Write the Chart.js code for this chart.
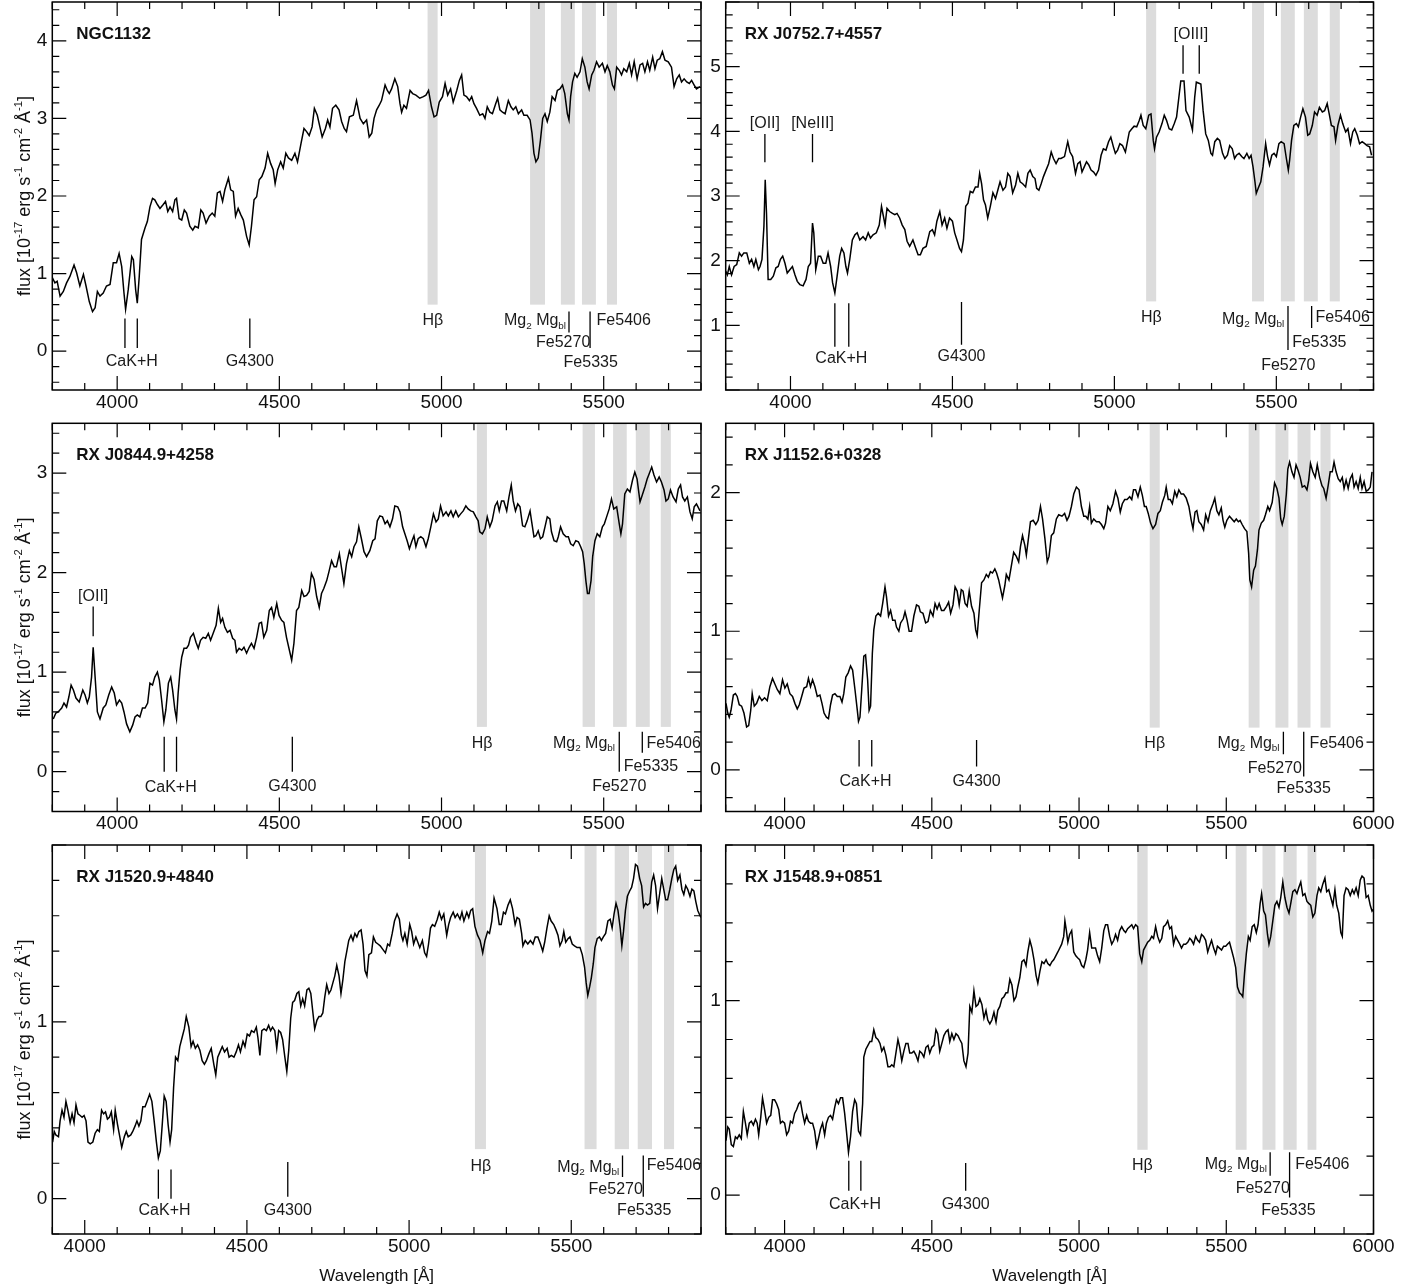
<!DOCTYPE html>
<html><head><meta charset="utf-8">
<script src="https://cdn.jsdelivr.net/npm/chart.js@4.4.1/dist/chart.umd.min.js"></script>
<style>
html,body{margin:0;padding:0;background:#fff;}
#wrap{position:relative;width:1420px;height:1287px;background:#fff;overflow:hidden;}
#wrap canvas{position:absolute;left:0;top:0;}
</style></head><body><div id="wrap"></div>
<script>
// ---------------- DATA ----------------
const panelNames = ['NGC1132','RX J0752.7+4557','RX J0844.9+4258','RX J1152.6+0328','RX J1520.9+4840','RX J1548.9+0851'];

const spectrum1 = [[3800,0.95],[3808,0.88],[3815,0.90],[3824,0.71],[3834,0.77],[3844,0.88],[3854,0.96],[3867,1.11],[3875,1.01],[3885,0.84],[3896,0.99],[3904,0.84],[3914,0.64],[3924,0.51],[3932,0.56],[3939,0.77],[3947,0.71],[3957,0.75],[3967,0.84],[3978,0.86],[3988,1.14],[3998,1.14],[4006,1.26],[4014,1.09],[4021,0.75],[4026,0.54],[4034,0.79],[4045,1.22],[4050,1.18],[4057,0.79],[4062,0.62],[4068,0.96],[4075,1.44],[4086,1.59],[4093,1.67],[4101,1.86],[4109,1.97],[4116,1.95],[4124,1.89],[4132,1.84],[4142,1.89],[4149,1.93],[4156,1.80],[4163,1.86],[4171,1.80],[4178,1.95],[4183,1.97],[4191,1.71],[4199,1.69],[4207,1.82],[4214,1.78],[4224,1.61],[4233,1.56],[4240,1.61],[4250,1.59],[4258,1.82],[4265,1.78],[4274,1.65],[4284,1.74],[4293,1.78],[4301,1.74],[4309,2.04],[4317,2.06],[4325,1.93],[4332,2.08],[4343,2.23],[4350,2.08],[4358,2.06],[4365,1.74],[4373,1.84],[4381,1.76],[4389,1.69],[4399,1.48],[4407,1.37],[4414,1.61],[4422,1.95],[4430,1.99],[4438,2.21],[4446,2.25],[4456,2.36],[4464,2.55],[4473,2.42],[4481,2.34],[4487,2.16],[4495,2.34],[4504,2.44],[4512,2.36],[4520,2.55],[4528,2.49],[4538,2.46],[4548,2.55],[4556,2.44],[4567,2.68],[4576,2.87],[4584,2.83],[4592,2.78],[4601,2.89],[4608,3.13],[4617,3.04],[4625,2.89],[4632,2.76],[4642,2.87],[4649,2.98],[4656,2.89],[4664,3.13],[4674,3.17],[4684,3.11],[4692,2.96],[4700,2.87],[4707,2.83],[4716,3.02],
[4728,3.04],[4738,3.23],[4749,3.00],[4759,2.93],[4769,2.98],[4777,2.76],[4785,2.81],[4792,3.00],[4800,3.11],[4808,3.17],[4815,3.23],[4826,3.43],[4833,3.36],[4839,3.32],[4846,3.38],[4856,3.51],[4865,3.41],[4872,3.19],[4877,3.08],[4884,3.17],[4892,3.13],[4903,3.36],[4911,3.32],[4921,3.30],[4933,3.26],[4944,3.28],[4952,3.30],[4960,3.36],[4969,3.15],[4977,3.02],[4985,3.04],[4993,3.21],[5003,3.28],[5011,3.45],[5019,3.30],[5028,3.38],[5036,3.21],[5047,3.36],[5055,3.49],[5062,3.56],[5069,3.30],[5077,3.28],[5086,3.23],[5093,3.28],[5100,3.19],[5108,3.13],[5118,3.04],[5127,3.06],[5134,3.00],[5141,3.15],[5149,3.08],[5157,3.06],[5167,3.19],[5173,3.26],[5180,3.11],[5188,3.08],[5196,3.06],[5206,3.23],[5214,3.15],[5221,3.11],[5229,3.15],[5237,3.06],[5247,3.11],[5254,3.04],[5264,3.04],[5273,2.98],[5279,2.81],[5285,2.55],[5291,2.44],[5298,2.49],[5305,2.72],[5312,3.00],[5319,3.06],[5326,2.96],[5334,3.08],[5341,3.28],[5350,3.23],[5357,3.36],[5365,3.38],[5373,3.43],[5380,3.32],[5388,3.06],[5393,2.98],[5398,3.28],[5404,3.47],[5411,3.58],[5418,3.53],[5427,3.60],[5434,3.77],[5442,3.66],[5449,3.47],[5455,3.38],[5463,3.56],[5470,3.62],[5478,3.73],[5486,3.66],[5496,3.71],[5504,3.60],[5511,3.68],[5519,3.60],[5527,3.43],[5533,3.38],[5540,3.66],[5548,3.62],[5555,3.56],[5562,3.64],[5571,3.60],[5579,3.71],[5586,3.56],[5594,3.73],[5603,3.51],[5612,3.69],[5620,3.71],[5627,3.60],[5635,3.73],[5642,3.62],[5651,3.79],[5658,3.64],[5665,3.75],[5673,3.77],[5681,3.86],[5689,3.75],[5699,3.73],[5709,3.66],[5717,3.41],[5725,3.51],[5733,3.56],[5740,3.47],[5748,3.51],[5756,3.47],[5764,3.45],[5771,3.49],[5779,3.43],[5786,3.38],[5797,3.41]];

const spectrum2 = [[3800,1.84],[3805,1.78],[3811,1.91],[3818,1.78],[3826,1.91],[3834,1.94],[3842,2.12],[3849,2.07],[3856,2.12],[3865,2.12],[3873,1.96],[3880,2.02],[3887,1.91],[3893,2.02],[3901,1.86],[3906,1.91],[3912,2.02],[3918,2.53],[3922,3.25],[3926,2.73],[3931,1.71],[3939,1.71],[3947,1.76],[3955,1.89],[3962,1.91],[3969,2.02],[3976,2.07],[3983,1.96],[3990,1.81],[3998,1.86],[4006,1.91],[4014,1.78],[4021,1.68],[4029,1.63],[4039,1.61],[4048,1.71],[4055,1.91],[4062,1.96],[4068,2.58],[4072,2.43],[4078,1.86],[4086,2.07],[4093,2.07],[4101,1.96],[4109,1.96],[4116,2.12],[4124,1.91],[4130,1.66],[4137,1.50],[4144,1.76],[4152,2.07],[4158,2.19],[4165,2.12],[4171,1.91],[4176,1.81],[4183,2.02],[4191,2.32],[4199,2.40],[4206,2.43],[4214,2.32],[4224,2.37],[4232,2.32],[4240,2.43],[4247,2.35],[4255,2.40],[4265,2.43],[4274,2.55],[4281,2.84],[4286,2.71],[4292,2.55],[4298,2.81],[4306,2.76],[4315,2.73],[4322,2.71],[4329,2.73],[4337,2.66],[4345,2.55],[4353,2.48],[4360,2.30],[4368,2.22],[4378,2.32],[4387,2.19],[4394,2.09],[4401,2.09],[4409,2.19],[4419,2.22],[4430,2.45],[4438,2.48],[4445,2.40],[4452,2.61],[4461,2.76],[4468,2.55],[4476,2.66],[4483,2.50],[4491,2.66],[4500,2.61],[4507,2.43],[4514,2.32],[4522,2.19],[4528,2.14],[4534,2.32],[4541,2.84],[4548,2.89],[4555,3.07],[4563,3.05],[4571,3.14],[4579,3.14],[4584,3.35],[4590,3.19],[4596,2.94],[4602,2.86],[4609,2.66],[4617,2.84],[4625,3.05],[4633,2.96],[4640,3.09],[4647,3.22],[4656,3.09],[4664,3.14],[4671,3.35],[4678,3.30],[4686,3.05],[4695,3.17],[4702,3.35],[4709,3.22],[4717,3.19],[4726,3.14],[4733,3.35],[4740,3.40],[4748,3.30],[4755,3.27],[4760,3.12],[4767,3.09],[4774,3.19],[4781,3.30],[4789,3.40],[4797,3.50],[4805,3.68],[4812,3.58],[4820,3.50],[4828,3.58],
[4835,3.58],[4846,3.61],[4856,3.84],[4863,3.68],[4871,3.61],[4880,3.35],[4887,3.50],[4894,3.53],[4900,3.37],[4907,3.45],[4914,3.53],[4921,3.48],[4928,3.40],[4936,3.37],[4943,3.32],[4951,3.40],[4959,3.63],[4966,3.73],[4974,3.71],[4982,3.84],[4989,3.91],[4997,3.76],[5003,3.66],[5010,3.71],[5017,3.81],[5025,3.78],[5034,3.68],[5041,3.86],[5046,3.99],[5054,4.04],[5061,4.08],[5069,4.07],[5077,4.17],[5082,4.25],[5089,4.09],[5097,4.04],[5106,4.25],[5113,4.27],[5120,3.86],[5124,3.73],[5130,3.91],[5138,3.99],[5147,4.12],[5154,4.25],[5161,4.17],[5169,4.04],[5177,4.02],[5185,4.12],[5192,4.22],[5198,4.48],[5205,4.78],[5215,4.78],[5221,4.32],[5231,4.22],[5241,4.02],[5248,4.53],[5253,4.76],[5267,4.73],[5274,4.32],[5282,3.96],[5290,3.86],[5298,3.66],[5303,3.63],[5310,3.84],[5318,3.89],[5325,3.86],[5334,3.66],[5341,3.58],[5349,3.63],[5356,3.78],[5364,3.73],[5371,3.58],[5377,3.63],[5385,3.66],[5393,3.61],[5400,3.58],[5409,3.66],[5416,3.58],[5422,3.63],[5428,3.45],[5434,3.22],[5438,3.04],[5444,3.12],[5452,3.22],[5459,3.45],[5467,3.81],[5473,3.61],[5479,3.48],[5486,3.63],[5493,3.66],[5500,3.61],[5508,3.81],[5515,3.84],[5524,3.81],[5531,3.58],[5537,3.40],[5541,3.55],[5547,3.86],[5554,4.09],[5562,4.12],[5568,4.07],[5575,4.22],[5582,4.35],[5590,4.22],[5597,3.94],[5603,3.96],[5611,4.09],[5618,4.30],[5626,4.25],[5633,4.37],[5642,4.30],[5649,4.32],[5657,4.43],[5664,4.25],[5670,4.09],[5678,4.07],[5683,3.86],[5690,4.09],[5698,4.25],[5705,4.12],[5714,3.99],[5721,4.04],[5729,3.81],[5736,3.99],[5742,4.04],[5750,3.94],[5757,3.81],[5765,3.84],[5773,3.81],[5780,3.78],[5788,3.76],[5794,3.63]];

const spectrum3 = [[3803,0.53],[3811,0.59],[3818,0.60],[3829,0.64],[3836,0.69],[3844,0.65],[3851,0.75],[3858,0.87],[3865,0.82],[3873,0.74],[3883,0.70],[3894,0.82],[3901,0.77],[3908,0.69],[3914,0.75],[3921,0.95],[3926,1.25],[3932,0.95],[3939,0.60],[3947,0.53],[3957,0.64],[3965,0.67],[3974,0.77],[3983,0.85],[3991,0.79],[3998,0.67],[4007,0.72],[4014,0.69],[4021,0.60],[4029,0.48],[4039,0.40],[4048,0.47],[4055,0.55],[4062,0.57],[4070,0.55],[4078,0.64],[4086,0.64],[4094,0.69],[4101,0.89],[4109,0.87],[4116,0.95],[4124,1.00],[4130,0.92],[4137,0.72],[4144,0.50],[4150,0.62],[4158,0.89],[4165,0.95],[4171,0.82],[4178,0.62],[4183,0.53],[4188,0.79],[4194,1.02],[4199,1.15],[4206,1.24],[4214,1.24],[4220,1.27],[4226,1.35],[4235,1.39],[4243,1.30],[4250,1.24],[4257,1.32],[4265,1.35],[4273,1.34],[4281,1.39],[4288,1.32],[4296,1.39],[4305,1.47],[4312,1.64],[4319,1.50],[4325,1.54],[4332,1.45],[4340,1.40],[4348,1.42],[4356,1.34],[4363,1.32],[4368,1.20],[4376,1.24],[4384,1.22],[4391,1.25],[4399,1.19],[4407,1.25],[4414,1.29],[4422,1.24],[4430,1.35],[4438,1.49],[4445,1.50],[4452,1.35],[4461,1.42],[4469,1.62],[4476,1.65],[4483,1.55],[4492,1.69],[4499,1.57],[4507,1.52],[4514,1.50],[4522,1.35],[4531,1.22],[4538,1.12],[4545,1.29],[4553,1.62],[4560,1.65],[4569,1.82],[4576,1.76],[4584,1.77],[4592,1.81],[4599,1.99],[4607,1.93],[4615,1.76],[4623,1.65],[4630,1.79],[4637,1.84],[4646,1.92],[4653,2.01],[4661,2.12],[4669,2.06],[4676,2.06],[4685,2.19],[4692,2.04],[4699,1.89],[4707,2.09],[4716,2.22],[4723,2.16],[4730,2.26],[4738,2.31],[4745,2.46],[4753,2.34],[4761,2.21],[4769,2.16],
[4779,2.22],[4788,2.32],[4795,2.34],[4802,2.52],[4810,2.57],[4818,2.56],[4826,2.49],[4833,2.52],[4841,2.46],[4849,2.54],[4856,2.67],[4865,2.66],[4872,2.61],[4880,2.46],[4887,2.39],[4894,2.32],[4901,2.24],[4908,2.31],[4915,2.37],[4921,2.26],[4928,2.34],[4936,2.36],[4944,2.34],[4952,2.26],[4959,2.34],[4967,2.46],[4975,2.59],[4983,2.51],[4990,2.54],[4997,2.67],[5005,2.57],[5014,2.61],[5021,2.57],[5029,2.62],[5036,2.56],[5044,2.62],[5052,2.56],[5059,2.59],[5067,2.62],[5075,2.67],[5082,2.64],[5090,2.62],[5098,2.61],[5106,2.56],[5113,2.52],[5118,2.41],[5126,2.39],[5134,2.44],[5141,2.56],[5149,2.46],[5156,2.52],[5165,2.67],[5172,2.71],[5178,2.62],[5185,2.72],[5192,2.72],[5201,2.62],[5208,2.76],[5215,2.88],[5221,2.72],[5228,2.62],[5235,2.69],[5242,2.66],[5250,2.47],[5257,2.46],[5264,2.52],[5273,2.62],[5278,2.51],[5285,2.36],[5291,2.37],[5298,2.42],[5305,2.34],[5312,2.36],[5319,2.46],[5326,2.56],[5334,2.54],[5339,2.41],[5347,2.32],[5355,2.31],[5360,2.36],[5367,2.46],[5375,2.39],[5384,2.36],[5391,2.36],[5398,2.29],[5406,2.27],[5414,2.32],[5422,2.31],[5429,2.26],[5435,2.21],[5440,2.09],[5445,1.92],[5450,1.79],[5455,1.79],[5461,1.92],[5466,2.16],[5473,2.32],[5480,2.39],[5488,2.36],[5496,2.46],[5502,2.49],[5509,2.56],[5517,2.64],[5524,2.74],[5531,2.64],[5540,2.66],[5548,2.49],[5553,2.39],[5558,2.49],[5565,2.79],[5573,2.84],[5581,2.81],[5589,2.93],[5596,3.01],[5603,2.94],[5612,2.71],[5619,2.78],[5627,2.86],[5634,2.94],[5640,2.99],[5648,3.06],[5655,2.98],[5663,2.91],[5671,2.96],[5678,2.91],[5686,2.83],[5692,2.72],[5699,2.74],[5706,2.83],[5714,2.76],[5723,2.71],[5730,2.84],[5737,2.88],[5743,2.76],[5750,2.72],[5758,2.76],[5766,2.61],[5773,2.54],[5779,2.66],[5786,2.69],[5797,2.62]];

const spectrum4 = [[3801,0.48],[3807,0.41],[3812,0.38],[3818,0.43],[3826,0.54],[3833,0.55],[3839,0.53],[3846,0.47],[3854,0.46],[3862,0.41],[3871,0.31],[3878,0.32],[3885,0.43],[3890,0.55],[3897,0.46],[3905,0.48],[3914,0.53],[3923,0.50],[3932,0.52],[3941,0.50],[3950,0.60],[3959,0.66],[3967,0.62],[3975,0.58],[3984,0.55],[3993,0.65],[4001,0.59],[4009,0.62],[4018,0.55],[4027,0.53],[4035,0.48],[4043,0.44],[4050,0.47],[4058,0.53],[4066,0.59],[4075,0.60],[4081,0.66],[4088,0.60],[4095,0.65],[4103,0.60],[4111,0.53],[4120,0.54],[4127,0.48],[4134,0.41],[4142,0.38],[4149,0.37],[4156,0.47],[4163,0.54],[4171,0.55],[4179,0.53],[4188,0.53],[4195,0.49],[4201,0.55],[4208,0.67],[4216,0.70],[4224,0.75],[4231,0.72],[4239,0.58],[4247,0.43],[4251,0.35],[4256,0.38],[4262,0.58],[4269,0.82],[4275,0.83],[4282,0.65],[4287,0.43],[4292,0.46],[4298,0.84],[4303,1.01],[4310,1.11],[4318,1.13],[4326,1.11],[4333,1.20],[4341,1.32],[4346,1.25],[4353,1.11],[4360,1.15],[4367,1.08],[4375,1.08],[4380,1.03],[4388,1.00],[4394,1.06],[4403,1.09],[4409,1.14],[4416,1.08],[4423,1.00],[4431,1.00],[4439,1.11],[4448,1.19],[4456,1.18],[4461,1.14],[4470,1.13],[4479,1.06],[4487,1.07],[4495,1.15],[4504,1.11],[4511,1.20],[4518,1.16],[4525,1.20],[4533,1.15],[4541,1.15],[4550,1.18],[4557,1.21],[4564,1.13],[4572,1.19],[4579,1.32],[4586,1.29],[4593,1.19],[4600,1.30],[4606,1.29],[4613,1.20],[4620,1.18],[4627,1.29],[4635,1.18],[4643,1.13],[4649,1.01],[4654,0.97],[4661,1.15],[4669,1.35],[4677,1.37],[4685,1.41],[4692,1.39],[4699,1.43],[4706,1.42],[4714,1.45],[4720,1.42],[4727,1.37],[4734,1.30],[4740,1.24],[4748,1.33],[4753,1.41],[4762,1.37],[4770,1.47],[4778,1.57],[4787,1.54],[4795,1.50],[4801,1.61],[4808,1.69],[4816,1.62],[4821,1.55],[4827,1.65],[4835,1.79],[4844,1.80],[4853,1.77],[4861,1.80],[4869,1.90],[4876,1.81],[4884,1.67],[4892,1.50],[4898,1.54],[4906,1.69],[4914,1.71],[4923,1.81],[4931,1.84],
[4942,1.83],[4951,1.85],[4959,1.80],[4966,1.83],[4974,1.90],[4982,1.99],[4991,2.04],[5000,2.02],[5008,1.90],[5016,1.83],[5023,1.83],[5030,1.81],[5036,1.90],[5042,1.78],[5050,1.81],[5059,1.79],[5068,1.79],[5076,1.77],[5084,1.74],[5090,1.78],[5098,1.90],[5106,1.87],[5115,1.92],[5124,2.01],[5132,1.96],[5140,1.86],[5147,1.92],[5155,1.95],[5163,1.95],[5172,1.97],[5179,1.95],[5185,2.02],[5192,2.02],[5200,1.97],[5208,2.04],[5215,1.98],[5222,1.90],[5228,1.90],[5235,1.85],[5243,1.78],[5251,1.74],[5260,1.77],[5268,1.85],[5276,1.87],[5283,1.93],[5291,1.98],[5296,2.04],[5303,1.95],[5310,1.95],[5317,1.92],[5325,2.01],[5332,1.97],[5339,2.02],[5347,1.99],[5355,1.99],[5364,1.96],[5373,1.90],[5381,1.80],[5387,1.74],[5394,1.86],[5400,1.87],[5407,1.79],[5415,1.77],[5423,1.73],[5430,1.84],[5438,1.79],[5446,1.87],[5455,1.92],[5461,1.96],[5468,1.87],[5475,1.84],[5483,1.89],[5489,1.80],[5495,1.75],[5502,1.80],[5511,1.83],[5519,1.81],[5527,1.79],[5534,1.81],[5541,1.79],[5547,1.80],[5554,1.77],[5562,1.74],[5570,1.72],[5576,1.56],[5580,1.37],[5586,1.32],[5593,1.44],[5599,1.47],[5606,1.59],[5611,1.73],[5619,1.78],[5627,1.80],[5633,1.84],[5641,1.90],[5647,1.87],[5656,1.93],[5664,2.07],[5672,2.03],[5679,1.96],[5685,1.81],[5690,1.77],[5697,1.83],[5704,1.99],[5709,2.17],[5715,2.22],[5723,2.15],[5730,2.11],[5737,2.20],[5744,2.16],[5751,2.11],[5758,2.04],[5766,2.05],[5774,2.02],[5780,2.09],[5786,2.21],[5794,2.15],[5802,2.11],[5809,2.20],[5817,2.11],[5825,2.05],[5831,2.03],[5839,1.96],[5846,2.05],[5853,2.15],[5860,2.15],[5866,2.22],[5873,2.15],[5880,2.10],[5887,2.08],[5894,2.11],[5900,2.03],[5907,2.09],[5914,2.03],[5921,2.10],[5928,2.13],[5934,2.04],[5941,2.08],[5948,2.03],[5955,2.11],[5961,2.03],[5968,2.08],[5975,2.01],[5982,2.02],[5989,2.04],[5995,2.15]];

const spectrum5 = [[3901,0.32],[3906,0.38],[3911,0.36],[3919,0.35],[3924,0.44],[3930,0.50],[3936,0.46],[3942,0.55],[3948,0.50],[3955,0.43],[3961,0.48],[3967,0.43],[3973,0.53],[3979,0.48],[3986,0.47],[3992,0.46],[3998,0.47],[4004,0.44],[4010,0.32],[4017,0.31],[4025,0.32],[4032,0.37],[4039,0.39],[4045,0.38],[4052,0.50],[4058,0.48],[4064,0.49],[4070,0.45],[4076,0.46],[4082,0.49],[4089,0.39],[4094,0.50],[4101,0.42],[4107,0.36],[4114,0.29],[4122,0.35],[4128,0.38],[4134,0.35],[4142,0.36],[4148,0.38],[4155,0.41],[4161,0.44],[4167,0.41],[4173,0.44],[4179,0.52],[4186,0.52],[4192,0.55],[4200,0.59],[4207,0.55],[4214,0.44],[4221,0.32],[4227,0.23],[4233,0.27],[4239,0.42],[4245,0.58],[4251,0.55],[4257,0.42],[4263,0.32],[4268,0.39],[4274,0.63],[4280,0.80],[4287,0.78],[4293,0.86],[4300,0.91],[4307,0.96],[4313,1.03],[4321,0.97],[4328,0.86],[4334,0.89],[4341,0.85],[4348,0.87],[4355,0.84],[4362,0.78],[4369,0.76],[4375,0.78],[4383,0.82],[4390,0.85],[4398,0.76],[4404,0.70],[4410,0.80],[4417,0.83],[4424,0.86],[4431,0.83],[4439,0.85],[4445,0.80],[4452,0.81],[4460,0.80],[4467,0.83],[4474,0.87],[4480,0.83],[4488,0.89],[4494,0.86],[4501,0.93],[4508,0.92],[4514,0.95],[4522,0.94],[4529,0.97],[4534,0.91],[4540,0.81],[4546,0.95],[4553,0.96],[4560,0.95],[4567,0.98],[4573,0.95],[4579,0.97],[4586,0.95],[4592,0.85],[4598,0.95],[4604,0.94],[4610,0.90],[4617,0.80],[4623,0.72],[4629,0.84],[4635,1.02],[4641,1.11],[4647,1.12],[4654,1.16],[4660,1.17],[4666,1.09],[4672,1.13],[4678,1.09],[4685,1.18],[4691,1.19],[4697,1.16],[4703,1.06],[4709,0.96],[4716,1.01],[4722,1.03],[4728,1.03],[4734,1.05],[4740,1.14],[4746,1.21],[4753,1.16],[4759,1.18],[4765,1.22],[4771,1.26],[4777,1.32],[4784,1.26],[4790,1.16],[4796,1.24],[4802,1.34],[4808,1.40],[4814,1.46],[4821,1.49],[4827,1.46],[4833,1.50],[4839,1.48],[4845,1.51],[4852,1.52],[4858,1.44],[4864,1.29],[4870,1.26],[4876,1.38],
[4884,1.39],[4890,1.48],[4897,1.45],[4904,1.44],[4911,1.43],[4919,1.41],[4927,1.39],[4934,1.44],[4940,1.43],[4948,1.50],[4955,1.57],[4963,1.61],[4970,1.58],[4976,1.49],[4981,1.46],[4987,1.50],[4994,1.44],[5002,1.55],[5008,1.51],[5014,1.44],[5021,1.48],[5027,1.45],[5033,1.42],[5041,1.46],[5048,1.39],[5054,1.37],[5060,1.44],[5066,1.53],[5072,1.55],[5079,1.54],[5087,1.58],[5093,1.62],[5100,1.58],[5107,1.61],[5116,1.49],[5122,1.55],[5128,1.59],[5136,1.62],[5142,1.59],[5149,1.61],[5157,1.58],[5163,1.62],[5169,1.57],[5178,1.62],[5184,1.59],[5190,1.63],[5196,1.64],[5203,1.54],[5211,1.49],[5219,1.46],[5227,1.39],[5234,1.46],[5242,1.51],[5248,1.50],[5255,1.57],[5262,1.70],[5271,1.64],[5278,1.55],[5284,1.55],[5291,1.62],[5297,1.61],[5305,1.66],[5312,1.69],[5319,1.64],[5327,1.55],[5333,1.59],[5340,1.58],[5347,1.50],[5351,1.43],[5358,1.46],[5366,1.44],[5374,1.46],[5382,1.44],[5389,1.48],[5397,1.48],[5405,1.44],[5412,1.40],[5418,1.45],[5425,1.53],[5432,1.60],[5438,1.57],[5446,1.55],[5453,1.52],[5459,1.49],[5465,1.43],[5472,1.46],[5477,1.51],[5483,1.45],[5490,1.47],[5496,1.48],[5503,1.44],[5510,1.43],[5518,1.42],[5527,1.42],[5534,1.38],[5541,1.31],[5546,1.22],[5551,1.15],[5557,1.20],[5562,1.25],[5568,1.33],[5573,1.42],[5580,1.47],[5587,1.48],[5593,1.46],[5599,1.48],[5606,1.50],[5613,1.57],[5620,1.58],[5626,1.53],[5632,1.61],[5638,1.67],[5644,1.63],[5651,1.53],[5656,1.43],[5661,1.51],[5667,1.63],[5673,1.71],[5680,1.74],[5686,1.76],[5692,1.81],[5698,1.89],[5704,1.88],[5711,1.81],[5717,1.77],[5723,1.65],[5729,1.67],[5735,1.66],[5742,1.67],[5748,1.79],[5754,1.83],[5760,1.77],[5766,1.64],[5773,1.73],[5779,1.81],[5785,1.75],[5791,1.69],[5797,1.69],[5804,1.75],[5810,1.81],[5816,1.86],[5822,1.88],[5828,1.80],[5835,1.83],[5841,1.75],[5847,1.72],[5853,1.77],[5859,1.75],[5866,1.71],[5872,1.75],[5878,1.74],[5884,1.68],[5890,1.63],[5897,1.60],[5900,1.59]];

const spectrum6 = [[3801,0.28],[3807,0.35],[3812,0.34],[3819,0.26],[3826,0.25],[3833,0.30],[3839,0.29],[3846,0.31],[3853,0.29],[3860,0.43],[3867,0.37],[3873,0.31],[3880,0.37],[3887,0.38],[3894,0.36],[3901,0.39],[3907,0.37],[3912,0.31],[3919,0.40],[3925,0.50],[3932,0.44],[3939,0.37],[3946,0.40],[3953,0.41],[3959,0.49],[3966,0.49],[3973,0.47],[3980,0.44],[3986,0.37],[3993,0.38],[4000,0.37],[4007,0.31],[4014,0.33],[4020,0.38],[4027,0.37],[4034,0.42],[4041,0.44],[4048,0.47],[4054,0.48],[4061,0.42],[4068,0.37],[4075,0.41],[4081,0.38],[4088,0.37],[4095,0.37],[4102,0.33],[4109,0.25],[4115,0.29],[4122,0.34],[4129,0.37],[4136,0.31],[4142,0.37],[4149,0.40],[4156,0.41],[4163,0.39],[4170,0.45],[4176,0.49],[4183,0.47],[4190,0.50],[4197,0.50],[4204,0.42],[4210,0.33],[4217,0.22],[4224,0.30],[4231,0.43],[4238,0.49],[4244,0.47],[4251,0.33],[4258,0.31],[4265,0.47],[4269,0.71],[4276,0.75],[4283,0.77],[4290,0.79],[4296,0.79],[4303,0.85],[4310,0.81],[4317,0.80],[4324,0.78],[4330,0.74],[4337,0.76],[4344,0.72],[4351,0.66],[4358,0.66],[4364,0.67],[4371,0.66],[4378,0.73],[4385,0.80],[4391,0.76],[4398,0.69],[4405,0.74],[4412,0.78],[4419,0.78],[4425,0.73],[4432,0.73],[4439,0.74],[4446,0.72],[4453,0.69],[4459,0.74],[4466,0.73],[4473,0.71],[4480,0.76],[4487,0.77],[4493,0.73],[4500,0.76],[4507,0.77],[4514,0.85],[4520,0.83],[4527,0.74],[4534,0.78],[4541,0.82],[4548,0.84],[4555,0.85],[4561,0.79],[4568,0.83],[4575,0.80],[4582,0.83],[4589,0.82],[4595,0.80],[4602,0.78],[4609,0.69],[4616,0.66],[4623,0.73],[4629,0.97],[4636,0.94],[4643,1.05],[4650,0.97],[4657,0.98],[4663,1.01],[4670,0.98],[4677,0.91],[4684,0.95],[4690,0.90],[4697,0.88],[4704,0.90],[4711,0.94],[4718,0.89],[4724,0.95],[4731,0.97],[4738,1.01],[4745,1.02],[4752,1.04],[4758,1.04],[4765,1.11],[4772,1.08],[4779,1.00],[4786,1.02],[4792,1.07],[4799,1.12],[4806,1.20],[4813,1.21],[4820,1.18],[4826,1.25],[4833,1.31],[4840,1.27],[4847,1.21],[4854,1.13],[4860,1.09],[4867,1.15],[4874,1.20],[4881,1.19],[4888,1.21],[4894,1.19],[4901,1.18],[4908,1.20],[4914,1.21],[4921,1.23],[4928,1.25],
[4941,1.29],[4948,1.33],[4952,1.41],[4957,1.36],[4962,1.30],[4968,1.34],[4975,1.36],[4982,1.25],[4989,1.23],[4995,1.22],[5002,1.21],[5009,1.18],[5016,1.17],[5023,1.21],[5029,1.26],[5036,1.35],[5043,1.27],[5050,1.27],[5056,1.27],[5063,1.23],[5070,1.20],[5077,1.27],[5084,1.36],[5090,1.39],[5097,1.39],[5104,1.33],[5111,1.29],[5118,1.31],[5124,1.34],[5131,1.31],[5138,1.36],[5145,1.38],[5152,1.36],[5158,1.35],[5165,1.37],[5172,1.38],[5179,1.39],[5185,1.37],[5192,1.39],[5199,1.38],[5206,1.24],[5213,1.20],[5219,1.26],[5226,1.28],[5233,1.30],[5240,1.31],[5247,1.33],[5253,1.32],[5260,1.38],[5267,1.33],[5274,1.30],[5281,1.32],[5287,1.38],[5294,1.39],[5301,1.41],[5308,1.37],[5314,1.38],[5321,1.29],[5328,1.33],[5335,1.31],[5342,1.29],[5348,1.27],[5355,1.29],[5362,1.29],[5369,1.30],[5376,1.32],[5382,1.31],[5389,1.29],[5396,1.33],[5403,1.31],[5409,1.30],[5416,1.34],[5423,1.33],[5430,1.31],[5437,1.25],[5443,1.28],[5450,1.31],[5457,1.27],[5464,1.24],[5470,1.28],[5477,1.27],[5484,1.26],[5491,1.28],[5498,1.28],[5504,1.29],[5511,1.30],[5518,1.26],[5525,1.22],[5532,1.17],[5538,1.07],[5545,1.04],[5552,1.03],[5556,1.02],[5562,1.14],[5568,1.24],[5575,1.33],[5581,1.31],[5588,1.38],[5595,1.39],[5602,1.35],[5608,1.39],[5615,1.50],[5620,1.55],[5627,1.46],[5633,1.44],[5640,1.34],[5645,1.29],[5651,1.33],[5658,1.41],[5665,1.49],[5672,1.51],[5679,1.48],[5685,1.53],[5692,1.61],[5699,1.53],[5706,1.48],[5713,1.45],[5719,1.50],[5726,1.56],[5733,1.57],[5740,1.55],[5746,1.58],[5753,1.61],[5760,1.54],[5767,1.55],[5774,1.51],[5780,1.50],[5787,1.49],[5794,1.43],[5801,1.45],[5808,1.54],[5814,1.58],[5821,1.56],[5828,1.60],[5835,1.63],[5841,1.56],[5848,1.57],[5855,1.53],[5862,1.49],[5869,1.57],[5875,1.49],[5882,1.45],[5889,1.35],[5894,1.33],[5900,1.54],[5907,1.58],[5914,1.57],[5921,1.54],[5928,1.57],[5934,1.55],[5941,1.58],[5948,1.54],[5955,1.62],[5961,1.64],[5968,1.63],[5975,1.53],[5982,1.54],[5989,1.49],[5995,1.46],[6000,1.47]];

const spectra = [spectrum1, spectrum2, spectrum3, spectrum4, spectrum5, spectrum6];

// axis ranges and tick labels
const xRanges = [[3800,5800],[3800,5800],[3800,5800],[3800,6000],[3900,5900],[3800,6000]];
const yRanges = [[-0.5,4.5],[0,6],[-0.4,3.5],[-0.3,2.5],[-0.2,2.0],[-0.2,1.8]];
const xTickLabels = [[4000,4500,5000,5500],[4000,4500,5000,5500],[4000,4500,5000,5500],[4000,4500,5000,5500,6000],[4000,4500,5000,5500],[4000,4500,5000,5500,6000]];
const yTickLabels = [[0,1,2,3,4],[1,2,3,4,5],[0,1,2,3],[0,1,2],[0,1],[0,1]];

// Lick index passbands (observed wavelength) and lower end of the shading
const indexBands = [
  [[4957,4988],[5273,5319],[5368,5411],[5433,5476],[5510,5541]],
  [[5098,5129],[5425,5462],[5514,5557],[5585,5628],[5665,5696]],
  [[5109,5140],[5435,5473],[5529,5571],[5599,5642],[5676,5707]],
  [[5240,5274],[5576,5613],[5667,5711],[5742,5786],[5820,5854]],
  [[5203,5237],[5541,5578],[5634,5678],[5705,5749],[5786,5817]],
  [[5198,5233],[5532,5569],[5623,5667],[5694,5739],[5776,5806]]
];
const bandFloor = [0.6, 1.37, 0.45, 0.305, 0.28, 0.233];

// feature marker lines: [wavelength, flux from, flux to]
const lineMarks = [
  [[4024,0.04,0.42],[4062,0.04,0.42],[4409,0.04,0.42],[5393,0.24,0.51],[5458,0.04,0.51]],
  [[3921,3.52,3.96],[4068,3.52,3.96],[5212,4.89,5.33],[5262,4.89,5.33],[4137,0.67,1.34],[4180,0.67,1.34],[4528,0.70,1.36],[5536,0.62,1.30],[5609,0.96,1.30]],
  [[3926,1.36,1.66],[4145,0,0.35],[4183,0,0.35],[4540,0,0.35],[5548,0,0.40],[5619,0.19,0.40]],
  [[4253,0.024,0.216],[4296,0.024,0.216],[4652,0.024,0.216],[5694,0.113,0.276],[5763,-0.048,0.276]],
  [[4227,0,0.165],[4266,0,0.165],[4626,0.01,0.207],[5658,0.122,0.244],[5722,0.01,0.244]],
  [[4218,0.022,0.177],[4259,0.022,0.177],[4615,0.022,0.165],[5649,0.10,0.22],[5715,-0.012,0.22]]
];

// feature labels: [text, wavelength, flux, anchor]
const MG = [['Mg',0],['2',-1],[' Mg',0],['bl',-1]];
const lineLabels = [
  [['CaK+H',4045,-0.13,'c'],['G4300',4409,-0.13,'c'],['Hβ',4973,0.39,'c'],[MG,5384,0.39,'r'],['Fe5270',5375,0.11,'c'],['Fe5335',5460,-0.15,'c'],['Fe5406',5478,0.39,'l']],
  [['[OII]',3921,4.12,'c'],['[NeIII]',4068,4.12,'c'],['[OIII]',5236,5.50,'c'],['CaK+H',4157,0.49,'c'],['G4300',4528,0.52,'c'],['Hβ',5114,1.12,'c'],[MG,5524,1.09,'r'],['Fe5270',5537,0.385,'c'],['Fe5335',5549,0.74,'l'],['Fe5406',5621,1.12,'l']],
  [['[OII]',3926,1.755,'c'],['CaK+H',4165,-0.16,'c'],['G4300',4540,-0.15,'c'],['Hβ',5125,0.285,'c'],[MG,5535,0.285,'r'],['Fe5270',5548,-0.15,'c'],['Fe5335',5562,0.05,'l'],['Fe5406',5632,0.285,'l']],
  [['CaK+H',4275,-0.084,'c'],['G4300',4652,-0.084,'c'],['Hβ',5257,0.19,'c'],[MG,5681,0.19,'r'],['Fe5270',5665,0.012,'c'],['Fe5335',5763,-0.137,'c'],['Fe5406',5783,0.19,'l']],
  [['CaK+H',4246,-0.07,'c'],['G4300',4626,-0.07,'c'],['Hβ',5221,0.18,'c'],[MG,5648,0.178,'r'],['Fe5270',5637,0.05,'c'],['Fe5335',5725,-0.066,'c'],['Fe5406',5733,0.188,'l']],
  [['CaK+H',4239,-0.05,'c'],['G4300',4615,-0.05,'c'],['Hβ',5215,0.151,'c'],[MG,5638,0.159,'r'],['Fe5270',5624,0.031,'c'],['Fe5335',5711,-0.08,'c'],['Fe5406',5734,0.159,'l']]
];

const yTitle = [['flux [10',0],['-17',1],[' erg s',0],['-1',1],[' cm',0],['-2',1],[' Å',0],['-1',1],[']',0]];
const xTitle = 'Wavelength [Å]';

// ---------------- LAYOUT / STYLE ----------------
const W = 1420, H = 1287, YW = 50, XH = 32;
const FONT = '"Liberation Sans Narrow","Arial Narrow","Liberation Sans",Arial,sans-serif';
const plotBoxes = [
  [52.3, 2, 701, 390], [725.7, 2, 1373.5, 390],
  [52.3, 423.3, 701, 811.5], [725.7, 423.3, 1373.5, 811.5],
  [52.3, 845, 701, 1234], [725.7, 845, 1373.5, 1234]
];

function drawRich(ctx, parts, x, y, align, size, weight) {
  if (typeof parts === 'string') parts = [[parts, 0]];
  const f = s => `${weight || ''} ${s}px ${FONT}`;
  const ws = []; let w = 0;
  for (const [t, m] of parts) { ctx.font = f(m ? size * 0.62 : size); const tw = ctx.measureText(t).width; ws.push(tw); w += tw; }
  let cx = align === 'c' ? x - w / 2 : (align === 'r' ? x - w : x);
  ctx.textAlign = 'left'; ctx.textBaseline = 'middle';
  parts.forEach(([t, m], k) => {
    ctx.font = f(m ? size * 0.62 : size);
    const dy = m === 1 ? -size * 0.36 : (m === -1 ? size * 0.32 : 0);
    ctx.fillText(t, cx, y + dy);
    cx += ws[k];
  });
}

function decoPlugin(i) {
  return {
    id: 'deco' + i,
    beforeDatasetsDraw(chart) {
      const { ctx, chartArea: a, scales: { x, y } } = chart;
      ctx.save();
      ctx.beginPath(); ctx.rect(a.left, a.top, a.right - a.left, a.bottom - a.top); ctx.clip();
      ctx.fillStyle = '#dcdcdc';
      const yb = y.getPixelForValue(bandFloor[i]);
      for (const [s, e] of indexBands[i]) {
        const x1 = x.getPixelForValue(s), x2 = x.getPixelForValue(e);
        ctx.fillRect(x1, a.top, x2 - x1, yb - a.top);
      }
      ctx.restore();
    },
    afterDatasetsDraw(chart) {
      const { ctx, chartArea: a, scales: { x, y } } = chart;
      ctx.save();
      ctx.strokeStyle = '#000'; ctx.lineWidth = 1.5;
      ctx.strokeRect(a.left, a.top, a.right - a.left, a.bottom - a.top);
      ctx.lineWidth = 1.2; ctx.beginPath();
      const [x0, x1] = xRanges[i];
      for (let v = Math.ceil(x0 / 100) * 100; v <= x1; v += 100) {
        const px = x.getPixelForValue(v), L = v % 500 === 0 ? 14 : 7;
        ctx.moveTo(px, a.bottom); ctx.lineTo(px, a.bottom - L);
        ctx.moveTo(px, a.top); ctx.lineTo(px, a.top + L);
      }
      const [y0, y1] = yRanges[i];
      for (let k = Math.ceil(y0 * 5 - 1e-6); k <= Math.floor(y1 * 5 + 1e-6); k++) {
        const py = y.getPixelForValue(k / 5), L = k % 5 === 0 ? 14 : 7;
        ctx.moveTo(a.left, py); ctx.lineTo(a.left + L, py);
        ctx.moveTo(a.right, py); ctx.lineTo(a.right - L, py);
      }
      ctx.stroke();
      ctx.lineWidth = 1.3; ctx.beginPath();
      for (const [wl, f0, f1] of lineMarks[i]) {
        const px = x.getPixelForValue(wl);
        ctx.moveTo(px, y.getPixelForValue(f0)); ctx.lineTo(px, y.getPixelForValue(f1));
      }
      ctx.stroke();
      ctx.fillStyle = '#1a1a1a';
      for (const [t, wl, fl, al] of lineLabels[i]) {
        drawRich(ctx, t, x.getPixelForValue(wl), y.getPixelForValue(fl), al, 16);
      }
      ctx.fillStyle = '#111';
      drawRich(ctx, panelNames[i], a.left + (i % 2 === 0 ? 24 : 19), a.top + 32, 'l', 17, 'bold');
      ctx.restore();
    },
    afterDraw(chart) {
      const { ctx, chartArea: a } = chart;
      ctx.save(); ctx.fillStyle = '#111';
      if (i % 2 === 0) {
        ctx.translate(25, (a.top + a.bottom) / 2);
        ctx.rotate(-Math.PI / 2);
        drawRich(ctx, yTitle, 0, 0, 'c', 18);
        ctx.setTransform(1, 0, 0, 1, 0, 0);
      }
      if (i >= 4) {
        drawRich(ctx, xTitle, (a.left + a.right) / 2, 1276, 'c', 17);
      }
      ctx.restore();
    }
  };
}

const wrap = document.getElementById('wrap');
for (let i = 0; i < 6; i++) {
  const cv = document.createElement('canvas');
  cv.width = W; cv.height = H; cv.style.width = W + 'px'; cv.style.height = H + 'px';
  wrap.appendChild(cv);
  const b = plotBoxes[i];
  new Chart(cv, {
    type: 'line',
    data: { datasets: [{
      data: spectra[i].map(([wl, f]) => ({ x: wl, y: f })),
      borderColor: '#000', borderWidth: 1.5, pointRadius: 0, tension: 0, fill: false
    }] },
    options: {
      responsive: false, animation: false, events: [],
      layout: { autoPadding: false, padding: { left: b[0] - YW, top: b[1], right: W - b[2], bottom: H - b[3] - XH } },
      plugins: { legend: { display: false }, tooltip: { enabled: false } },
      scales: {
        x: {
          type: 'linear', min: xRanges[i][0], max: xRanges[i][1],
          grid: { display: false, drawTicks: false }, border: { display: false },
          ticks: { autoSkip: false, maxRotation: 0, padding: 1, color: '#111', font: { family: FONT, size: 19 }, callback: v => String(v) },
          afterBuildTicks: s => { s.ticks = xTickLabels[i].map(v => ({ value: v })); },
          afterFit: s => { s.height = XH; s.paddingLeft = 0; s.paddingRight = 0; }
        },
        y: {
          type: 'linear', min: yRanges[i][0], max: yRanges[i][1],
          grid: { display: false, drawTicks: false }, border: { display: false },
          ticks: { autoSkip: false, padding: 5, color: '#111', font: { family: FONT, size: 19 }, callback: v => String(v) },
          afterBuildTicks: s => { s.ticks = yTickLabels[i].map(v => ({ value: v })); },
          afterFit: s => { s.width = YW; s.paddingTop = 0; s.paddingBottom = 0; }
        }
      }
    },
    plugins: [decoPlugin(i)]
  });
}
</script></body></html>
